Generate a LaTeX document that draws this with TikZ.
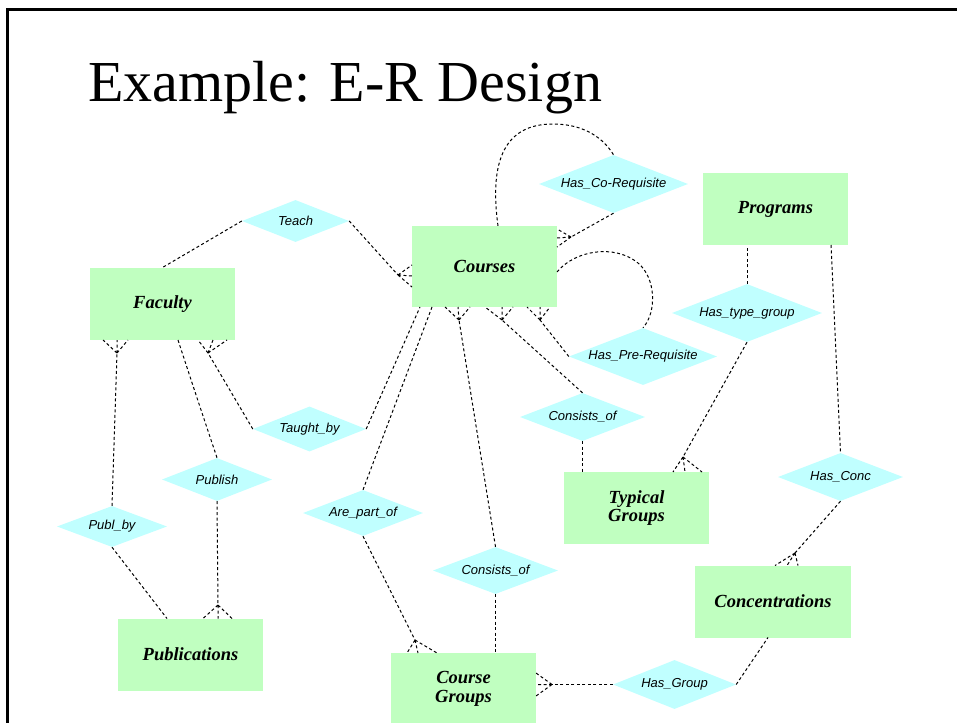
\documentclass[tikz,border=0pt]{standalone}
\usepackage{fontspec}
\setmainfont{Liberation Serif}
\newfontfamily\relfamily{Liberation Sans}
\usetikzlibrary{shapes.geometric}

\definecolor{entgreen}{RGB}{192,255,192}
\definecolor{relcyan}{RGB}{192,255,255}

\tikzset{
  entity/.style={fill=entgreen, inner sep=0pt, minimum width=145pt, minimum height=72pt,
    align=center, font=\fontsize{18.5}{18.5}\selectfont\bfseries\itshape},
  rel/.style={diamond, fill=relcyan, inner sep=0pt, aspect=2.6,
    font=\relfamily\itshape\fontsize{13}{14}\selectfont},
  conn/.style={line width=1pt, dash pattern=on 3pt off 2.5pt},
  frame/.style={line width=3pt},
}

% three dashed prongs from a foot point to the entity edge (the "many" side)
\newcommand\crowsfoot[4]{\draw[conn] (#1) -- (#2) (#1) -- (#3) (#1) -- (#4);}

\begin{document}
\begin{tikzpicture}[x=1pt,y=-1pt]
\useasboundingbox (0,0) rectangle (957,722);

% slide frame and heading
\draw[frame] (7.5,730) -- (7.5,9.9) -- (965,9.9);
\node[anchor=base west, inner sep=0pt, font=\fontsize{58}{60}\selectfont] (title) at (88,102) {Example: E-R Design};

% entity sets
\node[entity, minimum height=81pt] (courses) at (484.5,266.5) {Courses};
\node[entity] (faculty) at (162.5,303.7) {Faculty};
\node[entity] (programs) at (775.5,209.2) {Programs};
\node[entity] (typical) at (636.5,508) {Typical\\Groups};
\node[entity, minimum width=156pt] (concentrations) at (773,601.5) {Concentrations};
\node[entity] (publications) at (190.5,654.5) {Publications};
\node[entity] (coursegroups) at (463.5,689) {Course\\Groups};

% relationship sets
\node[rel, minimum width=149pt, minimum height=58pt] (coreq) at (613.5,184) {Has\_Co-Requisite};
\node[rel, minimum width=107pt, minimum height=42pt] (teach) at (295.5,221) {Teach};
\node[rel, minimum width=150pt, minimum height=58pt] (hastype) at (747,313) {Has\_type\_group};
\node[rel, minimum width=148pt, minimum height=57pt] (prereq) at (643,356.5) {Has\_Pre-Requisite};
\node[rel, minimum width=125pt, minimum height=48pt] (consup) at (582.5,417) {Consists\_of};
\node[rel, minimum width=125pt, minimum height=48pt] (hasconc) at (840.5,477) {Has\_Conc};
\node[rel, minimum width=113pt, minimum height=45pt] (taught) at (309.5,429) {Taught\_by};
\node[rel, minimum width=110pt, minimum height=43pt] (publish) at (217,479.5) {Publish};
\node[rel, minimum width=110pt, minimum height=41pt] (publby) at (112,526.5) {Publ\_by};
\node[rel, minimum width=120pt, minimum height=46pt] (arepart) at (363,513) {Are\_part\_of};
\node[rel, minimum width=125pt, minimum height=47pt] (conslow) at (495.5,570.5) {Consists\_of};
\node[rel, minimum width=123pt, minimum height=49pt] (hasgroup) at (674.5,684.5) {Has\_Group};

% Teach
\draw[conn] (teach.west) -- (faculty.north);
\coordinate (fT) at (398,275);
\draw[conn] (teach.east) -- (fT);
\crowsfoot{fT}{412,265}{412,276}{412,287}

% Has_Co-Requisite (Courses with itself)
\draw[conn] ([xshift=13.5pt]courses.north) .. controls (489,160) and (505,124) .. (553,124)
  .. controls (585,124) and (604,139) .. (coreq.north);
\coordinate (fCo) at (571,237);
\draw[conn] (coreq.south) -- (fCo);
\crowsfoot{fCo}{557,229}{557,238}{557,247}

% Has_Pre-Requisite (Courses with itself)
\draw[conn] (557,272) .. controls (575,250) and (615,244) .. (638,263)
  .. controls (656,278) and (657,312) .. (prereq.north);
\coordinate (fPre) at (540,320);
\draw[conn] (prereq.west) -- (fPre);
\crowsfoot{fPre}{527,307}{540,307}{550,307}

% Consists_of: Courses -- Typical Groups
\coordinate (fCu) at (502,320);
\draw[conn] (consup.north) -- (fCu);
\crowsfoot{fCu}{485,307}{502,307}{513,307}
\draw[conn] (consup.south) -- (consup.south |- typical.north);

% Consists_of: Courses -- Course Groups
\coordinate (fCl) at (459,320);
\draw[conn] (conslow.north) -- (fCl);
\crowsfoot{fCl}{445,307}{458,307}{470,307}
\draw[conn] (conslow.south) -- (conslow.south |- coursegroups.north);

% Taught_by
\coordinate (fTb) at (208,353);
\draw[conn] (taught.west) -- (fTb);
\crowsfoot{fTb}{198,340}{213,340}{227,340}
\draw[conn] (taught.east) -- (420,307);

% Are_part_of
\draw[conn] (arepart.north) -- (432,307);
\coordinate (fAp) at (415,640);
\draw[conn] (arepart.south) -- (fAp);
\crowsfoot{fAp}{407,653}{418,653}{437,653}

% Publish
\draw[conn] (178,340) .. controls (196,395) .. (publish.north);
\coordinate (fPb) at (218,605);
\draw[conn] (publish.south) -- (fPb);
\crowsfoot{fPb}{203,618.5}{218,618.5}{232,618.5}

% Publ_by
\coordinate (fPy) at (117,353);
\draw[conn] (publby.north) -- (fPy);
\crowsfoot{fPy}{103,340}{117,340}{128,340}
\draw[conn] (publby.south) -- (167,618.5);

% Has_type_group
\draw[conn] (hastype.north) -- (hastype.north |- programs.south);
\coordinate (fHt) at (683,457);
\draw[conn] (hastype.south) -- (fHt);
\crowsfoot{fHt}{673,472}{685,472}{702,472}

% Has_Conc
\draw[conn] (831,245) -- (hasconc.north);
\coordinate (fHc) at (795,553);
\draw[conn] (hasconc.south) -- (fHc);
\crowsfoot{fHc}{775,565.5}{787,565.5}{798,565.5}

% Has_Group
\coordinate (fHg) at (552,684.5);
\draw[conn] (hasgroup.west) -- (fHg);
\crowsfoot{fHg}{536,673}{536,684.5}{536,696}
\draw[conn] (hasgroup.east) -- (768,637.5);
\end{tikzpicture}
\end{document}
